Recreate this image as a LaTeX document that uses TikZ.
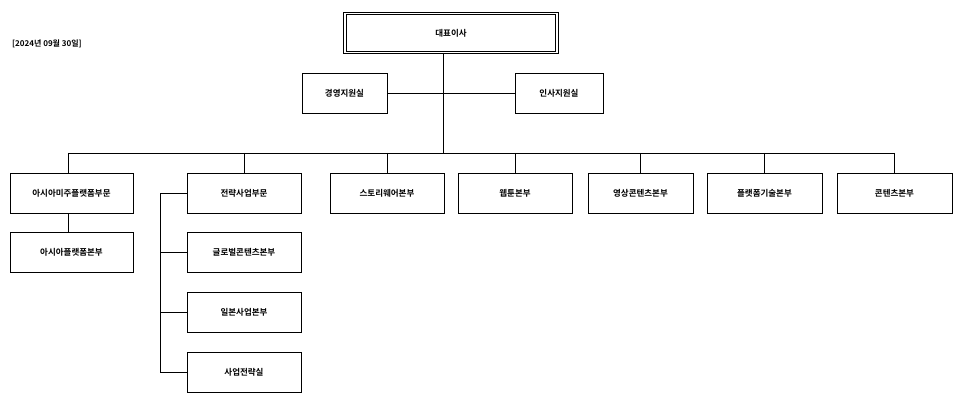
\documentclass[tikz,border=0pt]{standalone}
\usepackage{fontspec}
\newfontfamily\kr{Noto Sans CJK KR}[BoldFont={* Bold}]
\begin{document}
\begin{tikzpicture}[x=1pt,y=-1pt,
  box/.style={draw,line width=0.8pt,minimum height=40pt,inner sep=0pt,font=\kr\bfseries\fontsize{8.5}{10}\selectfont},
  ln/.style={line width=0.8pt}]
\useasboundingbox (0,0) rectangle (969,409);
\node[box,double,double distance=1.5pt,minimum width=212pt,minimum height=39pt] (ceo) at (451,33) {대표이사};
\node[box,minimum width=85pt] (gy) at (344.5,93) {경영지원실};
\node[box,minimum width=88pt] (is) at (559,93) {인사지원실};
\coordinate (sp) at (443,153);
\coordinate (bl) at (68,153);
\coordinate (br) at (895,153);
\draw[ln] (ceo.south -| sp) -- (sp);
\draw[ln] (gy.east) -- (is.west);
\draw[ln] (bl) -- (br);
\node[box,minimum width=123pt] (a1) at (71.5,193) {아시아미주플랫폼부문};
\node[box,minimum width=123pt] (a2) at (71.5,252.5) {아시아플랫폼본부};
\node[box,minimum width=114pt] (b1) at (244,193) {전략사업부문};
\node[box,minimum width=114pt] (b2) at (244,252.5) {글로벌콘텐츠본부};
\node[box,minimum width=114pt] (b3) at (244,312.5) {일본사업본부};
\node[box,minimum width=114pt] (b4) at (244,372.5) {사업전략실};
\node[box,minimum width=114pt] (c) at (387,193) {스토리웨어본부};
\node[box,minimum width=114pt] (d) at (515,193) {웹툰본부};
\node[box,minimum width=105pt] (e) at (640.5,193) {영상콘텐츠본부};
\node[box,minimum width=115pt] (f) at (764.5,193) {플랫폼기술본부};
\node[box,minimum width=115pt] (g) at (894.5,193) {콘텐츠본부};
\foreach \n in {b1,c,d,e,f,g} \draw[ln] (\n.north |- sp) -- (\n.north);
\draw[ln] (bl) -- (bl |- a1.north);
\draw[ln] (bl |- a1.south) -- (bl |- a2.north);
\coordinate (br1) at (160,193);
\draw[ln] (br1) -- (br1 |- b4.west);
\foreach \n in {b1,b2,b3,b4} \draw[ln] (br1 |- \n.west) -- (\n.west);
\node[anchor=west,font=\kr\bfseries\fontsize{8}{10}\selectfont,inner sep=0pt] (dt) at (12,44) {[2024년 09월 30일]};
\end{tikzpicture}
\end{document}
